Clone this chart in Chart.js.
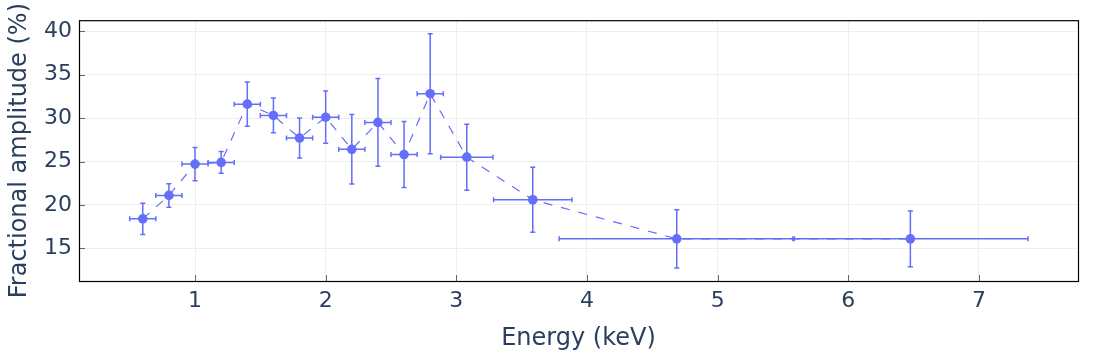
<!DOCTYPE html>
<html>
<head>
<meta charset="utf-8">
<script src="https://cdn.jsdelivr.net/npm/chart.js@4"></script>
<style>
  html, body { margin: 0; padding: 0; background: #fff; }
  #wrap { width: 1108px; height: 360px; }
</style>
</head>
<body>
<div id="wrap"><canvas id="graph"></canvas></div>
<script>
// energy bins (keV) and fractional amplitude (%)
var energy = [0.6, 0.8, 1.0, 1.2, 1.4, 1.6, 1.8, 2.0, 2.2, 2.4, 2.6, 2.8, 3.08, 3.585, 4.687, 6.475];
var energy_err = [0.1, 0.1, 0.1, 0.1, 0.1, 0.1, 0.1, 0.1, 0.1, 0.1, 0.1, 0.1, 0.2, 0.3, 0.9, 0.9];
var amplitude = [18.4, 21.1, 24.7, 24.9, 31.6, 30.3, 27.7, 30.1, 26.4, 29.5, 25.8, 32.8, 25.5, 20.6, 16.1, 16.1];
var amplitude_err = [1.8, 1.35, 1.9, 1.25, 2.55, 2.0, 2.3, 3.0, 4.0, 5.05, 3.8, 6.9, 3.8, 3.75, 3.35, 3.2];

var x_ticks = [1, 2, 3, 4, 5, 6, 7];
var y_ticks = [15, 20, 25, 30, 35, 40];

var blue = '#636efa';
var text_color = '#2a3f5f';

var points = energy.map(function(e, i){ return {x: e, y: amplitude[i]}; });

// error bars, inside tick marks and the black frame
var extras = {
    id: 'extras',
    beforeDatasetsDraw: function(chart){
        var ctx = chart.ctx;
        var xs = chart.scales.x, ys = chart.scales.y;
        ctx.save();
        ctx.strokeStyle = blue;
        ctx.lineWidth = 1.5;
        for (var i = 0; i < energy.length; i++){
            var px = xs.getPixelForValue(energy[i]);
            var py = ys.getPixelForValue(amplitude[i]);
            var x0 = xs.getPixelForValue(energy[i] - energy_err[i]);
            var x1 = xs.getPixelForValue(energy[i] + energy_err[i]);
            var y0 = ys.getPixelForValue(amplitude[i] - amplitude_err[i]);
            var y1 = ys.getPixelForValue(amplitude[i] + amplitude_err[i]);
            ctx.beginPath();
            ctx.moveTo(px, y0); ctx.lineTo(px, y1);
            ctx.moveTo(px - 2.5, y0); ctx.lineTo(px + 2.5, y0);
            ctx.moveTo(px - 2.5, y1); ctx.lineTo(px + 2.5, y1);
            ctx.moveTo(x0, py); ctx.lineTo(x1, py);
            ctx.moveTo(x0, py - 2.5); ctx.lineTo(x0, py + 2.5);
            ctx.moveTo(x1, py - 2.5); ctx.lineTo(x1, py + 2.5);
            ctx.stroke();
        }
        ctx.restore();
    },
    afterDraw: function(chart){
        var ctx = chart.ctx;
        var a = chart.chartArea;
        var xs = chart.scales.x, ys = chart.scales.y;
        ctx.save();
        ctx.strokeStyle = '#666';
        ctx.lineWidth = 1;
        ctx.beginPath();
        x_ticks.forEach(function(t){
            var p = Math.round(xs.getPixelForValue(t)) + 0.5;
            ctx.moveTo(p, a.bottom); ctx.lineTo(p, a.bottom - 6);
        });
        y_ticks.forEach(function(t){
            var p = Math.round(ys.getPixelForValue(t)) + 0.5;
            ctx.moveTo(a.left, p); ctx.lineTo(a.left + 6, p);
        });
        ctx.stroke();
        ctx.strokeStyle = '#000';
        ctx.lineWidth = 1.2;
        ctx.strokeRect(a.left + 0.5, a.top + 0.5, a.right - a.left, a.bottom - a.top);
        ctx.restore();
    }
};

var chart_context = document.getElementById('graph').getContext('2d');
var chart = new Chart(chart_context, {
    type: 'scatter',
    data: {
        datasets: [{
            data: points,
            showLine: true,
            borderColor: blue,
            borderWidth: 1.2,
            borderDash: [9, 9],
            backgroundColor: blue,
            pointBackgroundColor: blue,
            pointBorderWidth: 0,
            pointRadius: 4.8,
            pointHoverRadius: 4.8
        }]
    },
    options: {
        responsive: true,
        maintainAspectRatio: false,
        animation: false,
        events: [],
        layout: { padding: { top: 19, right: 30, left: 0, bottom: 0 } },
        plugins: { legend: { display: false }, tooltip: { enabled: false } },
        scales: {
            x: {
                type: 'linear',
                min: 0.112,
                max: 7.758,
                afterBuildTicks: function(scale){ scale.ticks = x_ticks.map(function(v){ return {value: v}; }); },
                afterFit: function(scale){ scale.height = 79; },
                grid: { color: '#eeeeee', drawTicks: false },
                border: { display: false },
                ticks: { padding: 7, color: text_color, font: { family: 'DejaVu Sans', size: 22 } },
                title: {
                    display: true,
                    text: 'Energy (keV)',
                    color: text_color,
                    font: { family: 'DejaVu Sans', size: 24 },
                    padding: { top: 0, bottom: 7 }
                }
            },
            y: {
                min: 11.25,
                max: 41.26,
                afterBuildTicks: function(scale){ scale.ticks = y_ticks.map(function(v){ return {value: v}; }); },
                afterFit: function(scale){ scale.width = 79; },
                grid: { color: '#eeeeee', drawTicks: false },
                border: { display: false },
                ticks: { padding: 7, color: text_color, font: { family: 'DejaVu Sans', size: 22 } },
                title: {
                    display: true,
                    text: 'Fractional amplitude (%)',
                    color: text_color,
                    font: { family: 'DejaVu Sans', size: 24 },
                    padding: { top: 5, bottom: 0 }
                }
            }
        }
    },
    plugins: [extras]
});
</script>
</body>
</html>
